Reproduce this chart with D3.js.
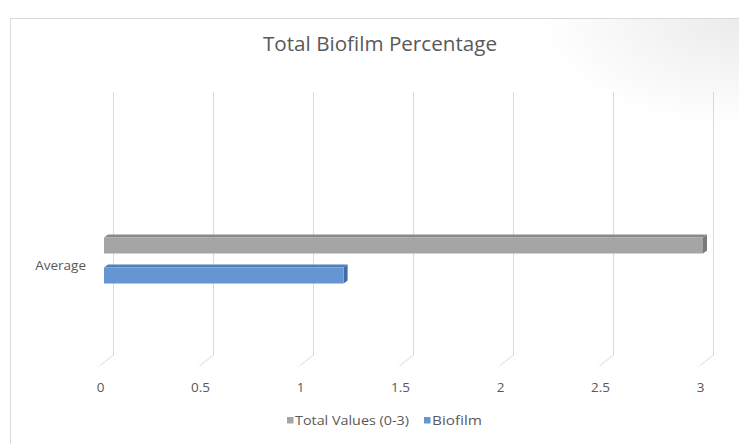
<!DOCTYPE html>
<html>
<head>
<meta charset="utf-8">
<script src="https://cdn.jsdelivr.net/npm/d3@7/dist/d3.min.js"></script>
<style>
  html, body { margin: 0; padding: 0; background: #ffffff; }
  svg { display: block; }
  text { font-family: "Open Sans", "Noto Sans", sans-serif; fill: #595959; }
</style>
</head>
<body>
<svg id="chart" width="739" height="444"></svg>
<script>
// ---- data ----
const categories = ["Average"];
const seriesNames = ["Total Values (0-3)", "Biofilm"];
const totalValues = [3];
const biofilmValues = [1.2];
const tickValues = [0, 0.5, 1, 1.5, 2, 2.5, 3];
const tickLabels = ["0", "0.5", "1", "1.5", "2", "2.5", "3"];
const title = "Total Biofilm Percentage";

const seriesData = [
  { name: seriesNames[0], values: totalValues, front: "#a5a5a5", top: "#8a8a8a", side: "#7a7a7a" },
  { name: seriesNames[1], values: biofilmValues, front: "#6396d2", top: "#4f7fbd", side: "#3f6ca6" }
];

const svg = d3.select("#chart");
const W = 739, H = 444;

// background with soft shading top-right
const defs = svg.append("defs");
const rg = defs.append("radialGradient").attr("id", "shade")
  .attr("gradientUnits", "userSpaceOnUse")
  .attr("cx", 739).attr("cy", 18).attr("r", 200)
  .attr("gradientTransform", "translate(739,18) scale(1,0.55) translate(-739,-18)");
rg.append("stop").attr("offset", "0%").attr("stop-color", "#ebebeb");
rg.append("stop").attr("offset", "100%").attr("stop-color", "#ffffff");

svg.append("rect").attr("x", 0).attr("y", 0).attr("width", W).attr("height", H).attr("fill", "#ffffff");
svg.append("rect").attr("x", 10.5).attr("y", 18.5).attr("width", W).attr("height", H)
  .attr("fill", "url(#shade)").attr("stroke", "#d9d9d9").attr("stroke-width", 1);

// ---- scales ----
const xBack = d3.scaleLinear().domain([0, 3]).range([113, 713]);
const xFront = d3.scaleLinear().domain([0, 3]).range([104, 703]);
const yTop = 92, yBottom = 355;
const footDx = -14, footDy = 11;

const yOuter = d3.scaleBand().domain(categories).range([96, 425]);
const yInner = d3.scaleBand().domain(seriesNames).range([-30, 30])
  .paddingInner(0.467).paddingOuter(0.233);

// ---- gridlines (3D wall + floor foot) ----
const grid = svg.append("g");
tickValues.forEach(t => {
  const x = Math.round(xBack(t)) + 0.5;
  grid.append("path")
    .attr("d", `M${x},${yTop} L${x},${yBottom} L${x + footDx},${yBottom + footDy}`)
    .attr("fill", "none").attr("stroke", "#d9d9d9").attr("stroke-width", 1);
});

// ---- axis labels ----
const xAxis = d3.axisBottom(d3.scaleLinear().domain([0, 3]).range([113 - 13, 713 - 13]))
  .tickValues(tickValues)
  .tickFormat((d, i) => tickLabels[i])
  .tickSize(0).tickPadding(0);
const ax = svg.append("g").attr("transform", `translate(0,382)`).call(xAxis);
ax.select(".domain").remove();
ax.selectAll("text").attr("font-size", 13.5).attr("fill", "#595959")
  .attr("font-family", "'Open Sans', sans-serif");

// ---- bars (3D look) ----
const depthX = 4, depthY = 3;
const barsG = svg.append("g");
categories.forEach((cat, ci) => {
  const cy = yOuter(cat) + yOuter.bandwidth() / 2;
  seriesData.forEach(s => {
    const v = s.values[ci];
    const y0 = cy + yInner(s.name);
    const h = yInner.bandwidth();
    const x0 = xFront(0), x1 = xFront(v);
    // top face
    barsG.append("path")
      .attr("d", `M${x0},${y0} L${x0 + depthX},${y0 - depthY} L${x1 + depthX},${y0 - depthY} L${x1},${y0} Z`)
      .attr("fill", s.top);
    // side face
    barsG.append("path")
      .attr("d", `M${x1},${y0} L${x1 + depthX},${y0 - depthY} L${x1 + depthX},${y0 + h - depthY} L${x1},${y0 + h} Z`)
      .attr("fill", s.side);
    // front face
    barsG.append("rect")
      .attr("x", x0).attr("y", y0).attr("width", x1 - x0).attr("height", h)
      .attr("fill", s.front);
  });
  // category label
  svg.append("text").attr("x", 86).attr("y", cy + 9)
    .attr("text-anchor", "end").attr("font-size", 13.5).text(cat);
});

// ---- title ----
svg.append("text").attr("x", 380).attr("y", 51).attr("text-anchor", "middle")
  .attr("font-size", 19.5).attr("textLength", 234).attr("lengthAdjust", "spacingAndGlyphs")
  .text(title);

// ---- legend ----
const legend = svg.append("g");
const legendItems = [
  { name: seriesNames[0], color: seriesData[0].front, x: 287 },
  { name: seriesNames[1], color: seriesData[1].front, x: 424 }
];
legendItems.forEach(it => {
  legend.append("rect").attr("x", it.x).attr("y", 417).attr("width", 6.5).attr("height", 6.5).attr("fill", it.color);
  legend.append("text").attr("x", it.x + 8).attr("y", 425).attr("font-size", 13)
    .attr("textLength", it.name === seriesNames[0] ? 114 : 50).attr("lengthAdjust", "spacingAndGlyphs")
    .text(it.name);
});
</script>
</body>
</html>
